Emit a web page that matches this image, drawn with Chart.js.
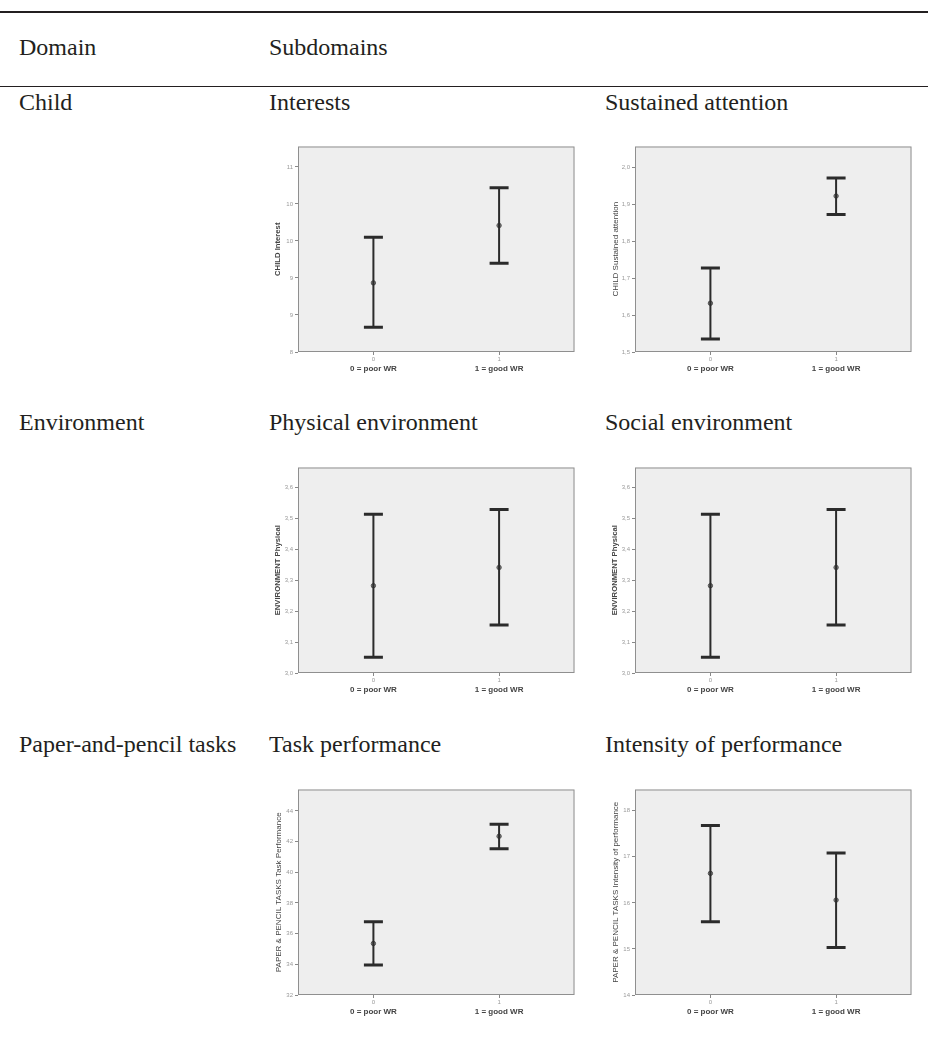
<!DOCTYPE html>
<html>
<head>
<meta charset="utf-8">
<script src="https://cdn.jsdelivr.net/npm/chart.js@4.4.1/dist/chart.umd.min.js"></script>
<style>
    body { margin: 0; background: #fff; }
    #page { position: relative; width: 928px; height: 1044px; font-family: 'Liberation Serif', 'Times New Roman', serif; color: #231f20; }
    .txt { position: absolute; font-size: 24px; line-height: 24px; white-space: nowrap; }
    .rule { position: absolute; left: 0; width: 928px; background: #231f20; }
    canvas { position: absolute; }
</style>
</head>
<body>
<div id="page">
    <div class="rule" style="top:11px;height:2px"></div>
    <div class="txt" style="left:19px;top:35px">Domain</div>
    <div class="txt" style="left:269px;top:35px">Subdomains</div>
    <div class="rule" style="top:86px;height:1px"></div>

    <div class="txt" style="left:19px;top:90px">Child</div>
    <div class="txt" style="left:269px;top:90px">Interests</div>
    <div class="txt" style="left:605px;top:90px">Sustained attention</div>
    <canvas id="interestChart" width="342" height="248" style="left:245px;top:134px"></canvas>
    <canvas id="attentionChart" width="342" height="248" style="left:582px;top:134px"></canvas>

    <div class="txt" style="left:19px;top:410px">Environment</div>
    <div class="txt" style="left:269px;top:410px">Physical environment</div>
    <div class="txt" style="left:605px;top:410px">Social environment</div>
    <canvas id="physicalChart" width="342" height="248" style="left:245px;top:455px"></canvas>
    <canvas id="socialChart" width="342" height="248" style="left:582px;top:455px"></canvas>

    <div class="txt" style="left:19px;top:732px">Paper-and-pencil tasks</div>
    <div class="txt" style="left:269px;top:732px">Task performance</div>
    <div class="txt" style="left:605px;top:732px">Intensity of performance</div>
    <canvas id="taskChart" width="342" height="248" style="left:245px;top:777px"></canvas>
    <canvas id="intensityChart" width="342" height="248" style="left:582px;top:777px"></canvas>
</div>

<script>
// groups on the x axis
const groups = ['0', '1'];
const groupNames = ['0 = poor WR', '1 = good WR'];

// CHILD Interest
const interestMean = [9.12, 10.05];
const interestLow = [8.40, 9.44];
const interestHigh = [9.86, 10.66];
const interestTicks = [8, 8.6, 9.2, 9.8, 10.4, 11];
const interestTickLabels = ['8', '9', '9', '10', '10', '11'];

// CHILD Sustained attention
const attentionMean = [1.632, 1.922];
const attentionLow = [1.535, 1.872];
const attentionHigh = [1.727, 1.971];
const attentionTicks = [1.5, 1.6, 1.7, 1.8, 1.9, 2.0];
const attentionTickLabels = ['1,5', '1,6', '1,7', '1,8', '1,9', '2,0'];

// ENVIRONMENT Physical (both panels)
const physicalMean = [3.282, 3.341];
const physicalLow = [3.051, 3.155];
const physicalHigh = [3.513, 3.528];
const socialMean = [3.282, 3.341];
const socialLow = [3.051, 3.155];
const socialHigh = [3.513, 3.528];
const envTicks = [3.0, 3.1, 3.2, 3.3, 3.4, 3.5, 3.6];
const envTickLabels = ['3,0', '3,1', '3,2', '3,3', '3,4', '3,5', '3,6'];

// PAPER & PENCIL TASKS Task Performance
const taskMean = [35.36, 42.35];
const taskLow = [33.95, 41.54];
const taskHigh = [36.78, 43.14];
const taskTicks = [32, 34, 36, 38, 40, 42, 44];
const taskTickLabels = ['32', '34', '36', '38', '40', '42', '44'];

// PAPER & PENCIL TASKS Intensity of performance
const intensityMean = [16.64, 16.06];
const intensityLow = [15.59, 15.03];
const intensityHigh = [17.68, 17.08];
const intensityTicks = [14, 15, 16, 17, 18];
const intensityTickLabels = ['14', '15', '16', '17', '18'];

const sans = "'Liberation Sans', Arial, sans-serif";

// grey plot area with a thin frame, like the SPSS output
const framePlugin = {
    id: 'frame',
    beforeDraw(chart) {
        const { ctx, chartArea: a } = chart;
        ctx.save();
        ctx.fillStyle = '#eeeeee';
        ctx.fillRect(a.left, a.top, a.width, a.height);
        ctx.strokeStyle = '#8f8f8f';
        ctx.lineWidth = 1;
        ctx.strokeRect(a.left + 0.5, a.top + 0.5, a.width - 1, a.height - 1);
        ctx.restore();
    }
};

function errorBarChart(id, opts) {
    const datasets = groups.map((g, i) => ({
        data: [{ x: i, y: opts.low[i] }, { x: i, y: opts.high[i] }],
        showLine: true,
        borderColor: '#2b2b2b',
        borderWidth: 2,
        pointStyle: 'line',
        pointRadius: 9.5,
        pointHoverRadius: 9.5,
        pointBorderWidth: 3,
        pointBorderColor: '#2b2b2b'
    }));
    datasets.push({
        data: opts.mean.map((m, i) => ({ x: i, y: m })),
        pointStyle: 'circle',
        pointRadius: 2.2,
        pointBackgroundColor: '#7a7a7a',
        pointBorderColor: '#555',
        pointBorderWidth: 1
    });

    new Chart(document.getElementById(id), {
        type: 'scatter',
        data: { datasets },
        plugins: [framePlugin],
        options: {
            responsive: false,
            animation: false,
            layout: { padding: { top: 10, right: 8, bottom: 4, left: 0 } },
            plugins: { legend: { display: false }, tooltip: { enabled: false } },
            scales: {
                x: {
                    type: 'linear',
                    min: -0.6,
                    max: 1.6,
                    weight: 0,
                    afterBuildTicks: s => { s.ticks = groups.map((g, i) => ({ value: i })); },
                    afterFit: s => { s.height = 12; },
                    grid: { drawOnChartArea: false, tickLength: 3, color: '#888' },
                    border: { display: false },
                    ticks: {
                        callback: (v, i) => groups[i],
                        font: { family: sans, size: 6 },
                        color: '#999',
                        padding: 1,
                        maxRotation: 0,
                        autoSkip: false
                    }
                },
                x2: {
                    type: 'linear',
                    position: 'bottom',
                    min: -0.6,
                    max: 1.6,
                    weight: 1,
                    afterBuildTicks: s => { s.ticks = groupNames.map((g, i) => ({ value: i })); },
                    afterFit: s => { s.height = 14; },
                    grid: { display: false, drawTicks: false },
                    border: { display: false },
                    ticks: {
                        callback: (v, i) => groupNames[i],
                        font: { family: sans, size: 8, weight: 'bold' },
                        color: '#444',
                        padding: 0,
                        maxRotation: 0,
                        autoSkip: false
                    }
                },
                y: {
                    min: opts.min,
                    max: opts.max,
                    afterBuildTicks: s => { s.ticks = opts.ticks.map(v => ({ value: v })); },
                    afterFit: s => { s.width = 53; },
                    grid: { drawOnChartArea: false, tickLength: 3, color: '#888' },
                    border: { display: false },
                    ticks: {
                        callback: (v, i) => opts.tickLabels[i],
                        font: { family: sans, size: 6 },
                        color: '#999',
                        padding: 2,
                        autoSkip: false
                    },
                    title: {
                        display: true,
                        text: opts.title,
                        font: { family: sans, size: opts.bold ? 7.7 : 8, weight: opts.bold ? 'bold' : 'normal' },
                        color: '#444',
                        padding: { top: 28.5, bottom: 0 }
                    }
                }
            }
        }
    });
}

errorBarChart('interestChart', {
    title: 'CHILD Interest', bold: true,
    mean: interestMean, low: interestLow, high: interestHigh,
    ticks: interestTicks, tickLabels: interestTickLabels, min: 8, max: 11.33
});
errorBarChart('attentionChart', {
    title: 'CHILD Sustained attention', bold: false,
    mean: attentionMean, low: attentionLow, high: attentionHigh,
    ticks: attentionTicks, tickLabels: attentionTickLabels, min: 1.5, max: 2.056
});
errorBarChart('physicalChart', {
    title: 'ENVIRONMENT Physical', bold: true,
    mean: physicalMean, low: physicalLow, high: physicalHigh,
    ticks: envTicks, tickLabels: envTickLabels, min: 3.0, max: 3.664
});
errorBarChart('socialChart', {
    title: 'ENVIRONMENT Physical', bold: true,
    mean: socialMean, low: socialLow, high: socialHigh,
    ticks: envTicks, tickLabels: envTickLabels, min: 3.0, max: 3.664
});
errorBarChart('taskChart', {
    title: 'PAPER & PENCIL TASKS Task Performance', bold: false,
    mean: taskMean, low: taskLow, high: taskHigh,
    ticks: taskTicks, tickLabels: taskTickLabels, min: 32, max: 45.4
});
errorBarChart('intensityChart', {
    title: 'PAPER & PENCIL TASKS Intensity of performance', bold: false,
    mean: intensityMean, low: intensityLow, high: intensityHigh,
    ticks: intensityTicks, tickLabels: intensityTickLabels, min: 14, max: 18.46
});
</script>
</body>
</html>
